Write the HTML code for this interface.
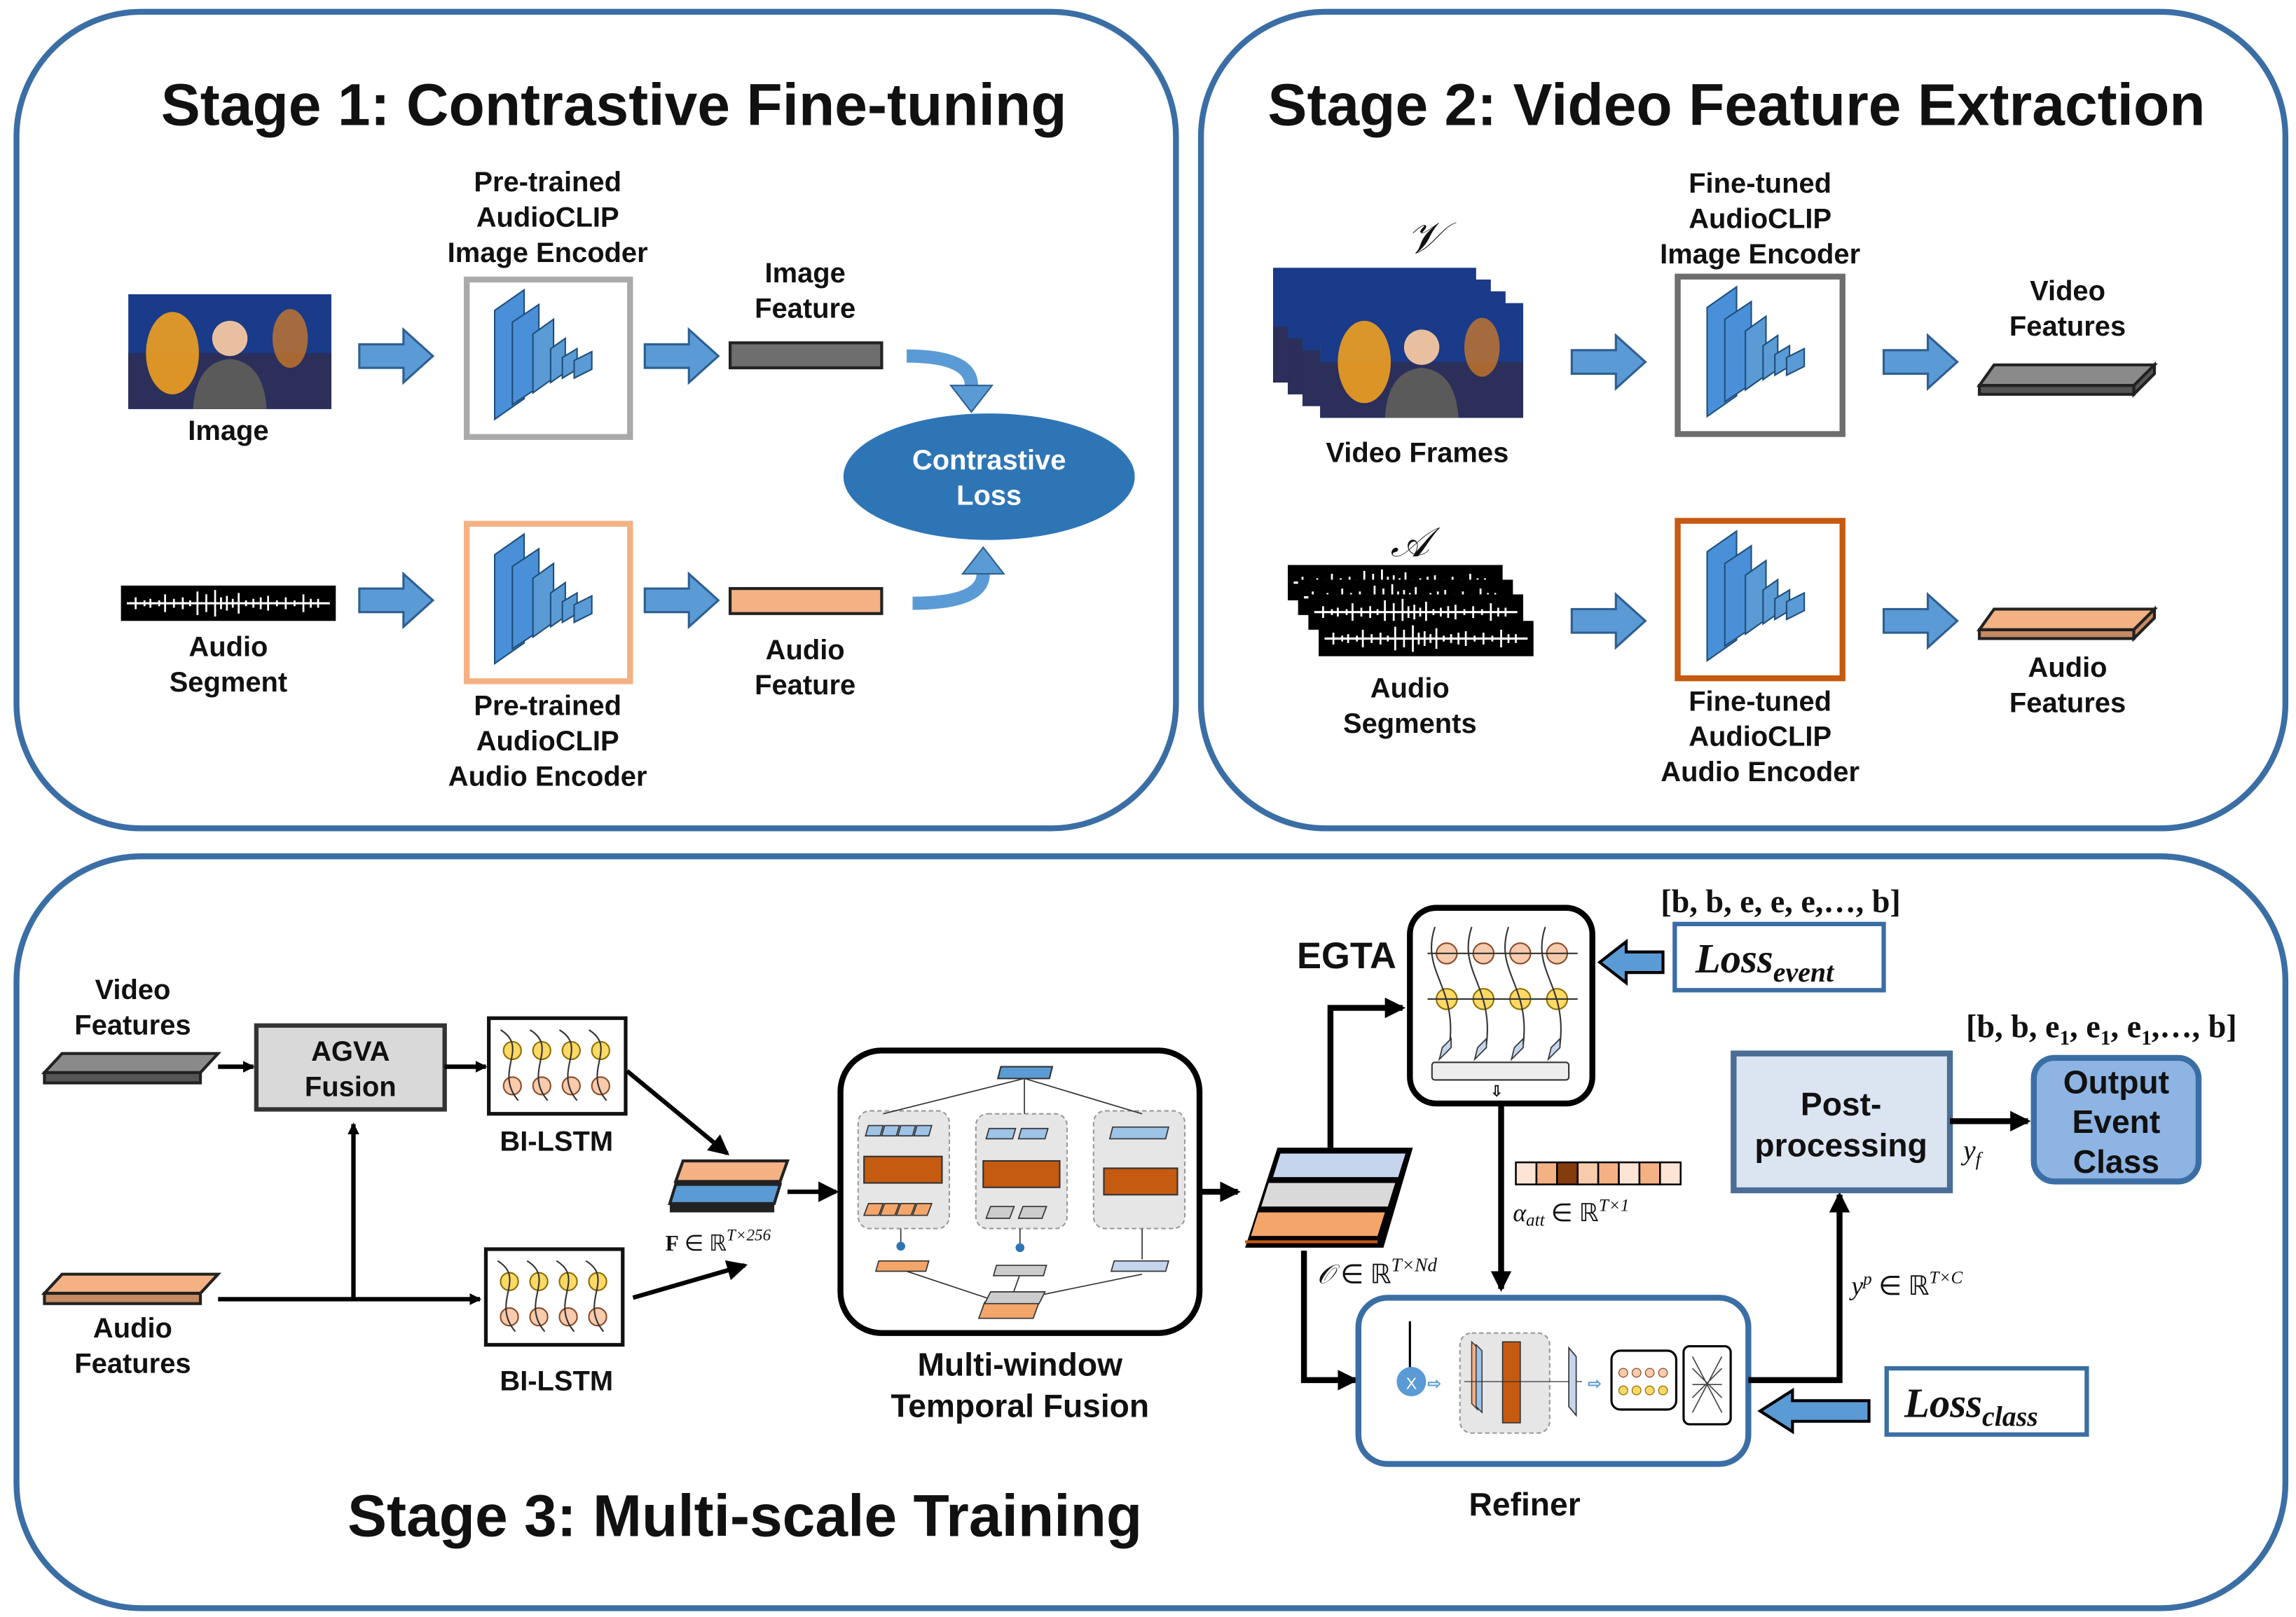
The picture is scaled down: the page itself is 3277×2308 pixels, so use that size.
<!DOCTYPE html>
<html><head><meta charset="utf-8"><style>
html,body{margin:0;padding:0;background:#fff}
svg{display:block}
text{font-family:"Liberation Sans",Arial,sans-serif;font-weight:bold;fill:#111}
.t{font-size:19px}
.ser{font-family:"Liberation Serif",serif;font-weight:normal}
</style></head><body>
<svg width="3277" height="2308" viewBox="0 0 1560 1099" xmlns="http://www.w3.org/2000/svg">
<defs>
<marker id="ah" markerWidth="8" markerHeight="8" refX="7" refY="4" orient="auto" markerUnits="userSpaceOnUse"><path d="M0,0 L8,4 L0,8 z" fill="#000"/></marker>
<marker id="ahb" markerWidth="14" markerHeight="14" refX="12" refY="7" orient="auto" markerUnits="userSpaceOnUse"><path d="M0,0 L14,7 L0,14 z" fill="#000"/></marker>
<g id="enc">
<polygon points="18,18 38,4 38,78 18,92" fill="#4a90d9" stroke="#1f4e79" stroke-width="1"/>
<polygon points="30,26 48,14 48,70 30,82" fill="#4a90d9" stroke="#1f4e79" stroke-width="1"/>
<polygon points="44,34 58,24 58,64 44,74" fill="#5b9bd5" stroke="#1f4e79" stroke-width="1"/>
<polygon points="56,44 66,37 66,60 56,67" fill="#5b9bd5" stroke="#1f4e79" stroke-width="1"/>
<polygon points="64,50 74,44 74,58 64,64" fill="#5b9bd5" stroke="#1f4e79" stroke-width="1"/>
<polygon points="72,52 84,46 84,58 72,64" fill="#5b9bd5" stroke="#1f4e79" stroke-width="1"/>
</g>
<path id="barr" d="M0,-8 H30 V-18 L50,0 L30,18 V8 H0 z" fill="#5b9bd5" stroke="#2e5f92" stroke-width="1.5"/>
<g id="img">
<rect width="138" height="78" fill="#1a3a8a"/>
<rect x="0" y="40" width="138" height="38" fill="#2b2f5a"/>
<ellipse cx="30" cy="40" rx="18" ry="28" fill="#f0a020" opacity="0.9"/>
<ellipse cx="110" cy="30" rx="12" ry="20" fill="#e08020" opacity="0.7"/>
<circle cx="69" cy="30" r="12" fill="#e8c0a0"/>
<path d="M44,78 Q46,46 69,44 Q92,46 94,78 z" fill="#5a5a5a"/>
</g>
<g id="wave">
<rect width="146" height="24" fill="#000"/>
<path d="M4,12 H142" stroke="#fff" stroke-width="1.5"/>
<path d="M10,8 v8 M16,10 v4 M20,9 v6 M26,10 v4 M30,6 v12 M36,9 v6 M42,8 v8 M47,10 v4 M52,4 v16 M58,6 v12 M64,3 v18 M68,8 v8 M72,7 v10 M76,9 v6 M80,5 v14 M85,10 v4 M90,9 v6 M95,8 v8 M100,7 v10 M106,10 v4 M112,8 v8 M118,10 v4 M124,6 v12 M129,9 v6 M134,9 v6" stroke="#fff" stroke-width="1.3"/>
</g>
</defs>

<rect x="11" y="8" width="788" height="555" rx="85" fill="none" stroke="#3a6ea5" stroke-width="4"/>
<rect x="816" y="8" width="737" height="555" rx="85" fill="none" stroke="#3a6ea5" stroke-width="4"/>
<rect x="11" y="582" width="1542" height="511" rx="85" fill="none" stroke="#3a6ea5" stroke-width="4"/>

<text x="417" y="85" font-size="40" text-anchor="middle">Stage 1: Contrastive Fine-tuning</text>
<text x="1180" y="85" font-size="40" text-anchor="middle">Stage 2: Video Feature Extraction</text>
<text x="506" y="1044" font-size="40" text-anchor="middle">Stage 3: Multi-scale Training</text>

<use href="#img" x="87" y="200"/>
<text class="t" x="155" y="299" text-anchor="middle">Image</text>
<use href="#wave" x="82" y="398"/>
<text class="t" x="155" y="446" text-anchor="middle">Audio</text>
<text class="t" x="155" y="470" text-anchor="middle">Segment</text>
<use href="#barr" x="244" y="242"/>
<use href="#barr" x="244" y="408"/>
<text class="t" x="372" y="130" text-anchor="middle">Pre-trained</text>
<text class="t" x="372" y="154" text-anchor="middle">AudioCLIP</text>
<text class="t" x="372" y="178" text-anchor="middle">Image Encoder</text>
<rect x="317" y="190" width="111" height="107" fill="#fff" stroke="#aaa" stroke-width="4"/>
<use href="#enc" x="318" y="193"/>
<rect x="317" y="356" width="111" height="107" fill="#fff" stroke="#f4b183" stroke-width="4"/>
<use href="#enc" x="318" y="359"/>
<text class="t" x="372" y="486" text-anchor="middle">Pre-trained</text>
<text class="t" x="372" y="510" text-anchor="middle">AudioCLIP</text>
<text class="t" x="372" y="534" text-anchor="middle">Audio Encoder</text>
<use href="#barr" x="438" y="242"/>
<use href="#barr" x="438" y="408"/>
<text class="t" x="547" y="192" text-anchor="middle">Image</text>
<text class="t" x="547" y="216" text-anchor="middle">Feature</text>
<rect x="496" y="233" width="103" height="17" fill="#6e6e6e" stroke="#222" stroke-width="2"/>
<rect x="496" y="400" width="103" height="17" fill="#f4b183" stroke="#222" stroke-width="2"/>
<text class="t" x="547" y="448" text-anchor="middle">Audio</text>
<text class="t" x="547" y="472" text-anchor="middle">Feature</text>
<path d="M616,242 Q660,242 660,262" fill="none" stroke="#5b9bd5" stroke-width="9"/>
<polygon points="646,262 674,262 660,280" fill="#5b9bd5" stroke="#2e5f92"/>
<path d="M620,410 Q668,410 668,390" fill="none" stroke="#5b9bd5" stroke-width="9"/>
<polygon points="654,390 682,390 668,372" fill="#5b9bd5" stroke="#2e5f92"/>
<ellipse cx="672" cy="324" rx="99" ry="43" fill="#2e75b6"/>
<text class="t" x="672" y="319" text-anchor="middle" style="fill:#fff">Contrastive</text>
<text class="t" x="672" y="343" text-anchor="middle" style="fill:#fff">Loss</text>

<text x="968" y="172" font-size="30" text-anchor="middle" class="ser" font-style="italic">𝒱</text>
<use href="#img" x="865" y="182"/>
<use href="#img" x="875" y="190"/>
<use href="#img" x="885" y="198"/>
<use href="#img" x="897" y="206"/>
<text class="t" x="963" y="314" text-anchor="middle">Video Frames</text>
<text x="958" y="378" font-size="28" text-anchor="middle" class="ser" font-style="italic">𝒜</text>
<use href="#wave" x="875" y="384"/>
<use href="#wave" x="882" y="394"/>
<use href="#wave" x="889" y="404"/>
<use href="#wave" x="896" y="422"/>
<text class="t" x="958" y="474" text-anchor="middle">Audio</text>
<text class="t" x="958" y="498" text-anchor="middle">Segments</text>
<use href="#barr" x="1068" y="246"/>
<use href="#barr" x="1068" y="422"/>
<text class="t" x="1196" y="131" text-anchor="middle">Fine-tuned</text>
<text class="t" x="1196" y="155" text-anchor="middle">AudioCLIP</text>
<text class="t" x="1196" y="179" text-anchor="middle">Image Encoder</text>
<rect x="1140" y="188" width="112" height="107" fill="#fff" stroke="#6e6e6e" stroke-width="4"/>
<use href="#enc" x="1142" y="191"/>
<rect x="1140" y="354" width="112" height="107" fill="#fff" stroke="#c55a11" stroke-width="4"/>
<use href="#enc" x="1142" y="357"/>
<text class="t" x="1196" y="483" text-anchor="middle">Fine-tuned</text>
<text class="t" x="1196" y="507" text-anchor="middle">AudioCLIP</text>
<text class="t" x="1196" y="531" text-anchor="middle">Audio Encoder</text>
<use href="#barr" x="1280" y="246"/>
<use href="#barr" x="1280" y="422"/>
<text class="t" x="1405" y="204" text-anchor="middle">Video</text>
<text class="t" x="1405" y="228" text-anchor="middle">Features</text>
<polygon points="1355,248 1464,248 1450,262 1345,262" fill="#8a8a8a" stroke="#222" stroke-width="2"/>
<polygon points="1345,262 1450,262 1450,268 1345,268" fill="#555" stroke="#222" stroke-width="2"/>
<polygon points="1450,262 1464,248 1464,254 1450,268" fill="#555" stroke="#222" stroke-width="2"/>
<polygon points="1355,414 1464,414 1450,428 1345,428" fill="#f4b183" stroke="#222" stroke-width="2"/>
<polygon points="1345,428 1450,428 1450,434 1345,434" fill="#c58a63" stroke="#222" stroke-width="2"/>
<polygon points="1450,428 1464,414 1464,420 1450,434" fill="#c58a63" stroke="#222" stroke-width="2"/>
<text class="t" x="1405" y="460" text-anchor="middle">Audio</text>
<text class="t" x="1405" y="484" text-anchor="middle">Features</text>

<text class="t" x="90" y="679" text-anchor="middle">Video</text>
<text class="t" x="90" y="703" text-anchor="middle">Features</text>
<polygon points="42,716 148,716 136,729 30,729" fill="#8a8a8a" stroke="#222" stroke-width="2"/>
<rect x="30" y="729" width="106" height="7" fill="#555" stroke="#222" stroke-width="2"/>
<polygon points="42,866 148,866 136,879 30,879" fill="#f4b183" stroke="#222" stroke-width="2"/>
<rect x="30" y="879" width="106" height="7" fill="#c58a63" stroke="#222" stroke-width="2"/>
<text class="t" x="90" y="909" text-anchor="middle">Audio</text>
<text class="t" x="90" y="933" text-anchor="middle">Features</text>
<line x1="148" y1="725" x2="172" y2="725" stroke="#000" stroke-width="3" marker-end="url(#ah)"/>
<rect x="174" y="697" width="128" height="57" fill="#d9d9d9" stroke="#333" stroke-width="3"/>
<text class="t" x="238" y="721" text-anchor="middle">AGVA</text>
<text class="t" x="238" y="745" text-anchor="middle">Fusion</text>
<line x1="148" y1="883" x2="326" y2="883" stroke="#000" stroke-width="3" marker-end="url(#ah)"/>
<line x1="240" y1="883" x2="240" y2="764" stroke="#000" stroke-width="3" marker-end="url(#ah)"/>
<line x1="302" y1="725" x2="330" y2="725" stroke="#000" stroke-width="3" marker-end="url(#ah)"/>
<g id="lstm">
<rect x="332" y="692" width="93" height="65" fill="#fff" stroke="#111" stroke-width="2.5"/>
<g fill="#ffd966" stroke="#8a6d00" stroke-width="1"><circle cx="348" cy="714" r="6"/><circle cx="368" cy="714" r="6"/><circle cx="388" cy="714" r="6"/><circle cx="408" cy="714" r="6"/></g>
<g fill="#f8cbad" stroke="#8a4a2a" stroke-width="1"><circle cx="348" cy="738" r="6"/><circle cx="368" cy="738" r="6"/><circle cx="388" cy="738" r="6"/><circle cx="408" cy="738" r="6"/></g>
<path d="M340,700 C360,712 335,728 352,748 M360,700 C380,712 355,728 372,748 M380,700 C400,712 375,728 392,748 M400,700 C420,712 395,728 412,748" fill="none" stroke="#333" stroke-width="1"/>
</g>
<text class="t" x="378" y="782" text-anchor="middle">BI-LSTM</text>
<use href="#lstm" x="-2" y="157"/>
<text class="t" x="378" y="945" text-anchor="middle">BI-LSTM</text>
<line x1="426" y1="728" x2="494" y2="784" stroke="#000" stroke-width="3" marker-end="url(#ahb)"/>
<line x1="430" y1="882" x2="506" y2="860" stroke="#000" stroke-width="3" marker-end="url(#ahb)"/>
<polygon points="464,789 535,789 530,803 459,803" fill="#f4b183" stroke="#222" stroke-width="2"/>
<polygon points="459,805 530,805 526,818 455,818" fill="#5b9bd5" stroke="#222" stroke-width="2"/>
<rect x="455" y="819" width="71" height="5" fill="#222"/>
<text x="452" y="850" font-size="15" class="ser"><tspan font-weight="bold">F</tspan> ∈ ℝ<tspan font-size="11" dy="-7" font-style="italic">T×256</tspan></text>
<line x1="535" y1="810" x2="568" y2="810" stroke="#000" stroke-width="3" marker-end="url(#ahb)"/>

<rect x="571" y="714" width="244" height="192" rx="28" fill="#fff" stroke="#000" stroke-width="4"/>
<rect x="583" y="755" width="62" height="80" rx="8" fill="#e6e6e6" stroke="#999" stroke-dasharray="3,2"/>
<rect x="663" y="757" width="62" height="78" rx="8" fill="#e6e6e6" stroke="#999" stroke-dasharray="3,2"/>
<rect x="743" y="755" width="62" height="80" rx="8" fill="#e6e6e6" stroke="#999" stroke-dasharray="3,2"/>
<rect x="587" y="786" width="53" height="18" fill="#c55a11" stroke="#333"/>
<rect x="668" y="789" width="52" height="18" fill="#c55a11" stroke="#333"/>
<rect x="750" y="794" width="50" height="18" fill="#c55a11" stroke="#333"/>
<polygon points="680,725 715,725 713,733 678,733" fill="#5b9bd5" stroke="#333"/>
<g stroke="#333" stroke-width="0.8" fill="none"><path d="M696,733 L600,757 M696,733 L696,757 M696,733 L776,757"/><path d="M612,835 L612,848 M693,835 L693,848 M776,835 L776,856 M610,862 L682,886 M693,866 L688,880 M776,866 L698,882"/></g>
<g fill="#9dc3e6" stroke="#333" stroke-width="0.8"><polygon points="590,765 600,765 598,772 588,772"/><polygon points="601,765 611,765 609,772 599,772"/><polygon points="612,765 622,765 620,772 610,772"/><polygon points="623,765 633,765 631,772 621,772"/><polygon points="672,767 690,767 688,774 670,774"/><polygon points="694,767 712,767 710,774 692,774"/><polygon points="756,766 794,766 792,774 754,774"/></g>
<g fill="#f4a56a" stroke="#333" stroke-width="0.8"><polygon points="590,818 600,818 597,826 587,826"/><polygon points="601,818 611,818 608,826 598,826"/><polygon points="612,818 622,818 619,826 609,826"/><polygon points="623,818 633,818 630,826 620,826"/><polygon points="597,857 631,857 629,864 595,864"/><polygon points="669,885 706,885 702,896 665,896"/></g>
<g fill="#ccc" stroke="#333" stroke-width="0.8"><polygon points="673,820 689,820 686,828 670,828"/><polygon points="695,820 711,820 708,828 692,828"/><polygon points="677,860 711,860 709,867 675,867"/><polygon points="673,878 710,878 706,886 669,886"/></g>
<polygon points="757,857 794,857 792,864 755,864" fill="#c5d5ee" stroke="#333" stroke-width="0.8"/>
<circle cx="612" cy="847" r="3" fill="#2e75b6"/><circle cx="693" cy="848" r="3" fill="#2e75b6"/>
<text x="693" y="935" font-size="22" text-anchor="middle">Multi-window</text>
<text x="693" y="963" font-size="22" text-anchor="middle">Temporal Fusion</text>
<line x1="815" y1="810" x2="841" y2="810" stroke="#000" stroke-width="4" marker-end="url(#ahb)"/>

<polygon points="868,780 960,780 940,848 846,848" fill="#000"/>
<polygon points="870,784 955,784 950,800 865,800" fill="#c5d5ee"/>
<polygon points="862,804 948,804 943,820 857,820" fill="#d9d9d9"/>
<polygon points="855,824 941,824 936,840 850,840" fill="#f4a56a"/>
<rect x="846" y="843" width="90" height="2" fill="#c55a11"/>
<text x="895" y="872" font-size="18" class="ser" font-style="italic">𝒪 <tspan font-style="normal">∈ ℝ</tspan><tspan font-size="13" dy="-8">T×Nd</tspan></text>
<polyline points="904,780 904,685 953,685" fill="none" stroke="#000" stroke-width="4" marker-end="url(#ahb)"/>
<polyline points="886,850 886,938 921,938" fill="none" stroke="#000" stroke-width="4" marker-end="url(#ahb)"/>

<text x="915" y="658" font-size="25" text-anchor="middle">EGTA</text>
<rect x="958" y="617" width="124" height="133" rx="18" fill="#fff" stroke="#000" stroke-width="4"/>
<g fill="#f8cbad" stroke="#8a4a2a" stroke-width="1"><circle cx="983" cy="648" r="7"/><circle cx="1008" cy="648" r="7"/><circle cx="1033" cy="648" r="7"/><circle cx="1058" cy="648" r="7"/></g>
<g fill="#ffd966" stroke="#8a6d00" stroke-width="1"><circle cx="983" cy="679" r="7"/><circle cx="1008" cy="679" r="7"/><circle cx="1033" cy="679" r="7"/><circle cx="1058" cy="679" r="7"/></g>
<path d="M970,648 H1072 M970,679 H1072 M975,630 C965,660 990,670 985,710 M1000,630 C990,660 1015,670 1010,710 M1025,630 C1015,660 1040,670 1035,710 M1050,630 C1040,660 1065,670 1060,710" fill="none" stroke="#333" stroke-width="1"/>
<g fill="#c5d5ee" stroke="#333" stroke-width="0.8"><polygon points="980,712 986,706 986,712 978,720"/><polygon points="1004,712 1010,706 1010,712 1002,720"/><polygon points="1029,712 1035,706 1035,712 1027,720"/><polygon points="1054,712 1060,706 1060,712 1052,720"/></g>
<rect x="973" y="722" width="93" height="12" rx="2" fill="#eee" stroke="#333"/>
<text x="1017" y="745" font-size="10" text-anchor="middle">⇩</text>
<line x1="1020" y1="750" x2="1020" y2="876" stroke="#000" stroke-width="4" marker-end="url(#ahb)"/>
<g stroke="#000" stroke-width="1.2"><rect x="1030" y="790" width="14" height="15" fill="#fde4d4"/><rect x="1044" y="790" width="14" height="15" fill="#f4b183"/><rect x="1058" y="790" width="14" height="15" fill="#843c0c"/><rect x="1072" y="790" width="14" height="15" fill="#f8cbad"/><rect x="1086" y="790" width="14" height="15" fill="#f4b183"/><rect x="1100" y="790" width="14" height="15" fill="#fde4d4"/><rect x="1114" y="790" width="14" height="15" fill="#f4b183"/><rect x="1128" y="790" width="14" height="15" fill="#fde4d4"/></g>
<text x="1028" y="830" font-size="17" class="ser" font-style="italic">α<tspan font-size="12" dy="3">att</tspan><tspan font-style="normal" dy="-3"> ∈ ℝ</tspan><tspan font-size="12" dy="-7">T×1</tspan></text>

<text x="1210" y="620" font-size="22" text-anchor="middle" class="ser" style="font-weight:bold">[b, b, e, e, e,…, b]</text>
<rect x="1138" y="628" width="142" height="45" fill="#fff" stroke="#3a6ea5" stroke-width="3"/>
<text x="1152" y="661" font-size="28" class="ser" font-style="italic" style="font-weight:bold">Loss<tspan font-size="19" dy="6">event</tspan></text>
<path d="M1130,647 H1105 V640 L1087,654 L1105,668 V661 H1130 z" fill="#5b9bd5" stroke="#000" stroke-width="2"/>

<rect x="923" y="882" width="265" height="113" rx="20" fill="#fff" stroke="#3a6ea5" stroke-width="4"/>
<line x1="958" y1="898" x2="958" y2="930" stroke="#000" stroke-width="1.5"/>
<circle cx="959" cy="939" r="10" fill="#5b9bd5"/>
<text x="959" y="944" font-size="11" text-anchor="middle" style="fill:#fff;font-weight:normal">X</text>
<text x="970" y="944" font-size="11" style="fill:#5b9bd5">⇨</text>
<rect x="992" y="906" width="61" height="68" rx="8" fill="#e6e6e6" stroke="#999" stroke-dasharray="3,2"/>
<polygon points="1000,912 1004,916 1004,958 1000,954" fill="#f4b183" stroke="#333" stroke-width="0.7"/>
<polygon points="1003,914 1007,918 1007,960 1003,956" fill="#9dc3e6" stroke="#333" stroke-width="0.7"/>
<rect x="1021" y="912" width="12" height="55" fill="#c55a11" stroke="#333" stroke-width="0.8"/>
<line x1="995" y1="939" x2="1075" y2="939" stroke="#333" stroke-width="0.6"/>
<polygon points="1066,916 1071,922 1071,962 1066,956" fill="#c5d5ee" stroke="#333" stroke-width="0.8"/>
<text x="1079" y="944" font-size="11" style="fill:#5b9bd5">⇨</text>
<rect x="1095" y="918" width="44" height="40" rx="6" fill="#fff" stroke="#000" stroke-width="1.5"/>
<g fill="#f8cbad" stroke="#8a4a2a" stroke-width="0.6"><circle cx="1103" cy="933" r="3"/><circle cx="1112" cy="933" r="3"/><circle cx="1121" cy="933" r="3"/><circle cx="1130" cy="933" r="3"/></g>
<g fill="#ffd966" stroke="#8a6d00" stroke-width="0.6"><circle cx="1103" cy="945" r="3"/><circle cx="1112" cy="945" r="3"/><circle cx="1121" cy="945" r="3"/><circle cx="1130" cy="945" r="3"/></g>
<rect x="1144" y="915" width="32" height="53" rx="4" fill="#fff" stroke="#000" stroke-width="1.5"/>
<path d="M1150,922 L1170,960 M1150,960 L1170,922 M1150,930 L1170,950 M1150,950 L1170,930 M1150,941 H1170" stroke="#444" stroke-width="0.8"/>
<text x="1036" y="1030" font-size="22" text-anchor="middle">Refiner</text>

<path d="M1270,952 H1218 V945 L1196,959 L1218,973 V966 H1270 z" fill="#5b9bd5" stroke="#000" stroke-width="2"/>
<rect x="1282" y="930" width="136" height="45" fill="#fff" stroke="#3a6ea5" stroke-width="3"/>
<text x="1294" y="963" font-size="28" class="ser" font-style="italic" style="font-weight:bold">Loss<tspan font-size="19" dy="6">class</tspan></text>

<polyline points="1188,938 1250,938 1250,812" fill="none" stroke="#000" stroke-width="4" marker-end="url(#ahb)"/>
<text x="1258" y="880" font-size="18" class="ser" font-style="italic">y<tspan font-size="12" dy="-7">p</tspan><tspan font-style="normal" dy="7"> ∈ ℝ</tspan><tspan font-size="12" dy="-8">T×C</tspan></text>

<rect x="1178" y="716" width="147" height="93" fill="#dbe5f1" stroke="#4a6e95" stroke-width="4"/>
<text x="1251" y="758" font-size="22" text-anchor="middle">Post-</text>
<text x="1251" y="786" font-size="22" text-anchor="middle">processing</text>
<line x1="1325" y1="762" x2="1378" y2="762" stroke="#000" stroke-width="4" marker-end="url(#ahb)"/>
<text x="1334" y="788" font-size="19" class="ser" font-style="italic">y<tspan font-size="13" dy="4">f</tspan></text>
<text x="1428" y="705" font-size="22" text-anchor="middle" class="ser" style="font-weight:bold">[b, b, e<tspan font-size="14" dy="5">1</tspan><tspan dy="-5">, e</tspan><tspan font-size="14" dy="5">1</tspan><tspan dy="-5">, e</tspan><tspan font-size="14" dy="5">1</tspan><tspan dy="-5">,…, b]</tspan></text>
<rect x="1382" y="719" width="112" height="84" rx="14" fill="#8db4e2" stroke="#3a6ea5" stroke-width="4"/>
<text x="1438" y="743" font-size="22" text-anchor="middle">Output</text>
<text x="1438" y="770" font-size="22" text-anchor="middle">Event</text>
<text x="1438" y="797" font-size="22" text-anchor="middle">Class</text>
</svg>
</body></html>
